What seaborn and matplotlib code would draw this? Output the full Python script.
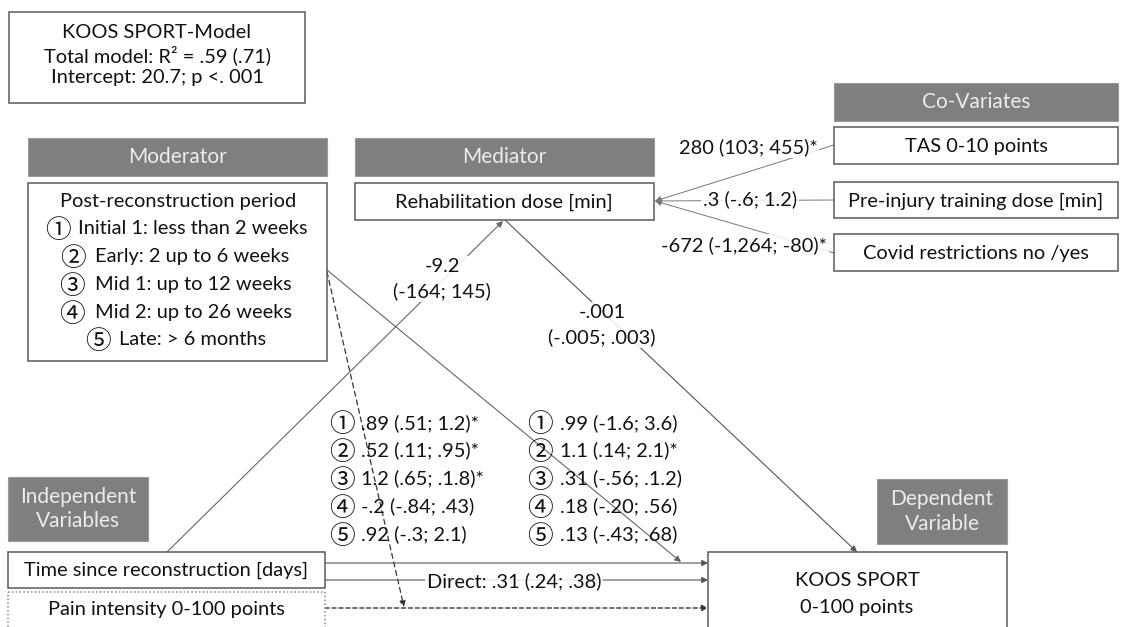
import matplotlib
matplotlib.use("Agg")
import matplotlib.pyplot as plt
import seaborn as sns
from matplotlib.patches import Rectangle

sns.set_theme(style="white")
FONT = ["Lato", "Noto Sans CJK JP", "DejaVu Sans"]
plt.rcParams["font.family"] = FONT

# ---- content ----
model_lines = ["KOOS SPORT-Model", "Total model: R² = .59 (.71)", "Intercept: 20.7; p <. 001"]
headers = ["Moderator", "Mediator", "Co-Variates", "Independent\nVariables", "Dependent\nVariable"]
circled = ["①", "②", "③", "④", "⑤"]
periods = ["Initial 1: less than 2 weeks", "Early: 2 up to 6 weeks", "Mid 1: up to 12 weeks",
           "Mid 2: up to 26 weeks", "Late: > 6 months"]
moderator_title = "Post-reconstruction period"
mediator_label = "Rehabilitation dose [min]"
covariates = ["TAS 0-10 points", "Pre-injury training dose [min]", "Covid restrictions no /yes"]
covariate_effects = ["280 (103; 455)*", ".3 (-.6; 1.2)", "-672 (-1,264; -80)*"]
independents = ["Time since reconstruction [days]", "Pain intensity 0-100 points"]
dependent = ["KOOS SPORT", "0-100 points"]
a_path = "-9.2\n(-164; 145)"
b_path = "-.001\n(-.005; .003)"
direct = "Direct: .31 (.24; .38)"
mod_pain = [".89 (.51; 1.2)*", ".52 (.11; .95)*", "1.2 (.65; .1.8)*", "-.2 (-.84; .43)", ".92 (-.3; 2.1)"]
mod_time = [".99 (-1.6; 3.6)", "1.1 (.14; 2.1)*", ".31 (-.56; .1.2)", ".18 (-.20; .56)", ".13 (-.43; .68)"]

W, H = 1123, 627
fig = plt.figure(figsize=(W / 100, H / 100), dpi=100)
ax = fig.add_axes([0, 0, 1, 1])
ax.set_xlim(0, W)
ax.set_ylim(H, 0)
ax.axis("off")

EDGE = "#5a5a5a"
HDR = "#7f7f7f"
TXT = "#111111"
FS = 14.4
CFS = 18.5

def box(x0, y0, x1, y1, ls="-", ec=EDGE, lw=1.1):
    ax.add_patch(Rectangle((x0, y0), x1 - x0, y1 - y0, fc="white", ec=ec, lw=lw, ls=ls, zorder=3))

def header(x0, y0, x1, y1, text):
    ax.add_patch(Rectangle((x0, y0), x1 - x0, y1 - y0, fc=HDR, ec="#9a9a9a", lw=0.8, zorder=3))
    ax.text((x0 + x1) / 2, (y0 + y1) / 2, text, ha="center", va="center", color="#ececec",
            fontsize=15, zorder=4, linespacing=1.3)

def t(x, y, s, ha="center", bg=False, fs=FS, z=5):
    kw = {}
    if bg:
        kw["bbox"] = dict(fc="white", ec="none", pad=1.5, alpha=0.85)
    ax.text(x, y, s, ha=ha, va="center", color=TXT, fontsize=fs, zorder=z, linespacing=1.5, **kw)

def circ(x, y, s):
    ax.text(x, y - 0.5, s, ha="center", va="center_baseline", color=TXT, fontsize=CFS, zorder=6,
            family=["Noto Sans CJK JP", "DejaVu Sans"])

def arrow(p0, p1, ls="-", lw=0.8, color="#555555"):
    ax.annotate("", xy=p1, xytext=p0,
                arrowprops=dict(arrowstyle="-|>", lw=lw, color=color, ls=ls,
                                mutation_scale=9, shrinkA=0, shrinkB=0), zorder=2)

# model box
box(9, 12, 305, 103)
for yy, s in zip([32, 55, 78], model_lines):
    t(157, yy, s)

# moderator
header(28, 138, 327, 176, headers[0])
box(28, 183, 327, 361)
t(178, 202, moderator_title)
circ_x = [58, 73, 72, 72, 98]
text_x = [78, 95, 95, 95, 119]
for i, (c, p) in enumerate(zip(circled, periods)):
    yy = 229 + 27.7 * i
    circ(circ_x[i], yy, c)
    t(text_x[i], yy, p, ha="left")

# mediator
header(355, 138, 654, 176, headers[1])
box(355, 183, 654, 220)
t(504, 202, mediator_label)

# covariates
header(834, 83, 1118, 121, headers[2])
cov_y = [(127, 164), (182, 218), (234, 271)]
for (y0, y1), s in zip(cov_y, covariates):
    box(834, y0, 1118, y1)
    t(976, (y0 + y1) / 2 + 1, s)

med_pt = (655, 201)
cov_src = [(834, 145), (834, 200), (834, 253)]
for src in cov_src:
    arrow(src, med_pt, color="#777777", lw=0.7)
for (xx, yy), s in zip([(748, 147), (750, 199), (744, 245)], covariate_effects):
    t(xx, yy, s, bg=True)

# independent
header(8, 477, 148, 541, headers[3])
box(8, 552, 325, 588)
t(166, 570, independents[0])
box(8, 592, 325, 640, ls=(0, (1, 1.5)), ec="#8a8a8a")
t(166, 610, independents[1])

# dependent
header(877, 479, 1007, 544, headers[4])
box(708, 552, 1007, 640)
t(857, 580, dependent[0])
t(857, 608, dependent[1])

# paths
arrow((167, 552), (503, 221), color="#666666")
arrow((505, 220), (857, 552), color="#555555")
arrow((327, 270), (681, 562), color="#666666")
arrow((327, 272), (404, 607), ls=(0, (4, 3)), color="#333333", lw=0.9)
arrow((325, 563), (708, 563), color="#555555")
arrow((325, 580), (708, 580), color="#555555")
arrow((325, 608), (708, 608), ls=(0, (3, 2)), color="#333333", lw=1.0)

t(442, 279, a_path, bg=True)
t(602, 325, b_path, bg=True)
t(514, 581, direct, bg=True)

rows_y = [423, 450, 478, 506, 534]
for yy, c, s in zip(rows_y, circled, mod_pain):
    circ(342, yy, c)
    t(361, yy, s, ha="left")
for yy, c, s in zip(rows_y, circled, mod_time):
    circ(540, yy, c)
    t(560, yy, s, ha="left")

fig.savefig("out.png", dpi=100, facecolor="white")
